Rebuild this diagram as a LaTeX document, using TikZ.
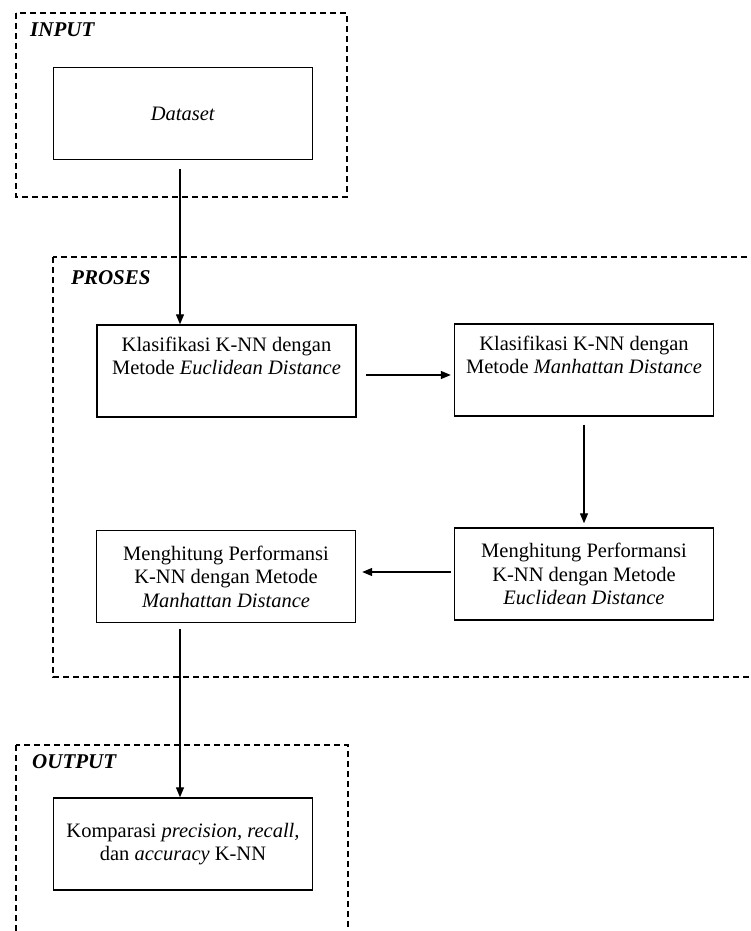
\documentclass[tikz,border=0pt]{standalone}
\usepackage{fontspec}
\setmainfont{Liberation Serif}
\usetikzlibrary{arrows.meta, calc, positioning}

\tikzset{
    kotak/.style={draw, line width=1.4pt, minimum width=259pt, minimum height=92pt, inner sep=0pt, align=center, font=\fontsize{20.5}{23.5}\selectfont},
    grup/.style={draw, line width=1.1pt, dash pattern=on 6pt off 4pt},
    judul/.style={anchor=west, inner sep=0pt, font=\fontsize{21}{24}\selectfont\bfseries\itshape},
    panah/.style={line width=1.3pt, -{Triangle[length=10pt,width=8pt]}}
}

\begin{document}
\begin{tikzpicture}[x=1pt, y=-1pt]
    \useasboundingbox (0, 0) rectangle (750, 931);
    \clip (0, 0) rectangle (750, 931);

    % kelompok
    \draw[grup] (16, 13) rectangle (347, 197);
    \draw[grup] (53, 257) rectangle (770, 677);
    \draw[grup] (16, 745) rectangle (348, 950);

    \node[judul] (input) at (30, 30) {INPUT};
    \node[judul] (proses) at (71, 278) {PROSES};
    \node[judul] (output) at (32, 762) {OUTPUT};

    % langkah
    \node[kotak] (dataset) at (183, 113.5) {\textit{Dataset}};
    \node[kotak] (knnE) at (226.5, 371) {Klasifikasi K-NN dengan\\Metode \textit{Euclidean Distance}\\\strut};
    \node[kotak] (knnM) at (584, 370) {Klasifikasi K-NN dengan\\Metode \textit{Manhattan Distance}\\\strut};
    \node[kotak] (perfE) at (584, 574) {Menghitung Performansi\\K-NN dengan Metode\\\textit{Euclidean Distance}};
    \node[kotak] (perfM) at (226, 576.5) {Menghitung Performansi\\K-NN dengan Metode\\\textit{Manhattan Distance}};
    \node[kotak] (komparasi) at (183, 844) {Komparasi \textit{precision, recall,}\\dan \textit{accuracy} K-NN};

    \draw[panah, shorten <=9pt] ([xshift=-3pt]dataset.south) -- ([xshift=-3pt]dataset.south |- knnE.north);
    \draw[panah, shorten <=9pt, shorten >=3pt] ([yshift=-4pt]knnE.east) -- ([yshift=-4pt]knnE.east -| knnM.west);
    \draw[panah, shorten <=8pt, shorten >=4pt] (knnM.south) -- (perfE.north);
    \draw[panah, shorten <=3pt, shorten >=6pt] ([yshift=2pt]perfE.west) -- ([yshift=2pt]perfE.west -| perfM.east);
    \draw[panah, shorten <=6pt] ([xshift=-3pt]komparasi.north |- perfM.south) -- ([xshift=-3pt]komparasi.north);
\end{tikzpicture}
\end{document}
